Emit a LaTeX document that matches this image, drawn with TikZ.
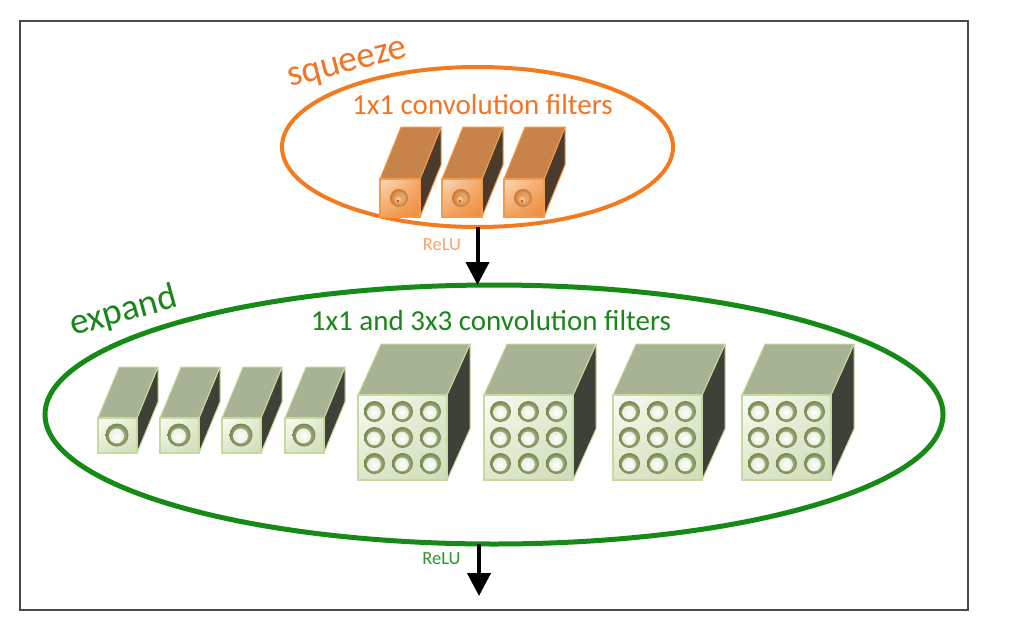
\documentclass[tikz,border=0pt]{standalone}
\usepackage{fontspec}
\setmainfont{Carlito}
\usetikzlibrary{arrows.meta,shapes.geometric,calc,shadings}
\definecolor{sqline}{HTML}{F47A20}
\definecolor{sqtext}{HTML}{F07527}
\definecolor{sqrelu}{HTML}{F5A46B}
\definecolor{grline}{HTML}{158A15}
\definecolor{grtext}{HTML}{1A861A}
\definecolor{grrelu}{HTML}{2A962A}
\definecolor{ortop}{HTML}{C7834A}
\definecolor{orside}{HTML}{4B3B2D}
\definecolor{orfa}{HTML}{FCD9B8}
\definecolor{orfb}{HTML}{EE8A38}
\definecolor{orborder}{HTML}{F39B4C}
\definecolor{orknob}{HTML}{E98A3A}
\definecolor{grtop}{HTML}{A8B396}
\definecolor{grside}{HTML}{3D4138}
\definecolor{grfa}{HTML}{FAFCF4}
\definecolor{grfb}{HTML}{D0DDB8}
\definecolor{grborder}{HTML}{C4DA9E}
\definecolor{grknob}{HTML}{8FAA5E}
\definecolor{framegray}{HTML}{4A4A4A}
% #1 x, #2 y (front top-left), #3 w, #4 h, #5 dx, #6 dy, #7 colour prefix
\newcommand\filtcube[7]{%
  \filldraw[fill=#7side, draw=#7border, line width=1pt, line join=round]
    (#1+#3,#2) -- (#1+#3+#5,#2-#6) -- (#1+#3+#5,#2+#4-#6) -- (#1+#3,#2+#4) -- cycle;
  \filldraw[fill=#7top, draw=#7border, line width=1pt, line join=round]
    (#1,#2) -- (#1+#5,#2-#6) -- (#1+#3+#5,#2-#6) -- (#1+#3,#2) -- cycle;
  \shade[upper left=#7fa, upper right=#7fb!60!#7fa, lower left=#7fb!70!#7fa, lower right=#7fb]
    (#1,#2) rectangle (#1+#3,#2+#4);
  \draw[#7border, line width=2pt] (#1,#2) rectangle (#1+#3,#2+#4);
}
\newcommand\orknob[2]{%
  \shade[inner color=orfa, outer color=orknob!85!black] (#1,#2) circle[radius=9pt];
  \shade[inner color=orfa, outer color=orknob] (#1-1,#2+1) circle[radius=5pt];
  \fill[orknob!70!black] (#1-1,#2+3) circle[radius=1.3pt];
}
\newcommand\grknob[3]{%
  \shade[inner color=grknob!35!white, outer color=grknob!80!black] (#1,#2) circle[radius=#3pt];
  \shade[inner color=white, outer color=white!80!grknob] (#1-0.5,#2+1) circle[radius=0.65*#3pt];
}
\begin{document}
\begin{tikzpicture}[x=1pt,y=-1pt,
  ellipsebox/.style={ellipse, inner sep=0pt, outer sep=0pt},
  arr/.style={line width=4pt, -{Triangle[width=23pt,length=23pt]}},
  bigtext/.style={font=\fontsize{37}{40}\selectfont},
  midtext/.style={font=\fontsize{29}{32}\selectfont},
  smalltext/.style={font=\fontsize{18.5}{20}\selectfont}]
\useasboundingbox (0,0) rectangle (1024,634);
\fill[white] (0,0) rectangle (1024,634);
\draw[framegray, line width=1.6pt] (20,21) rectangle (968,610);

% ellipses
\node[ellipsebox, draw=sqline, line width=4pt, minimum width=391pt, minimum height=160pt] (sq) at (477.5,147) {};
\node[ellipsebox, draw=grline, line width=5pt, minimum width=898pt, minimum height=259pt] (ex) at (494,414.5) {};

% labels
\node[bigtext, text=sqtext, rotate=14.3, anchor=base west, inner sep=0pt] (sqlabel) at (290,87) {squeeze};
\node[midtext, text=sqtext, anchor=base, inner sep=0pt] (sqsub) at (482.5,114) {1x1 convolution filters};
\node[bigtext, text=grtext, rotate=15.4, anchor=base west, inner sep=0pt] (exlabel) at (73,336) {expand};
\node[midtext, text=grtext, anchor=base, inner sep=0pt] (exsub) at (491,330) {1x1 and 3x3 convolution filters};

% squeeze filters
\foreach \x in {380,442,504} {
  \filtcube{\x}{179}{40}{38}{21}{52}{or}
  \orknob{\x+19}{198}
}
% expand 1x1 filters
\foreach \x in {98,160,222,285} {
  \filtcube{\x}{418}{39}{35}{21}{51}{gr}
  \grknob{\x+19}{435}{11.5}
}
% expand 3x3 filters
\foreach \x in {358,484,613,742} {
  \filtcube{\x}{395}{89}{85}{23}{51}{gr}
  \foreach \i in {-28,0,28} {
    \foreach \j in {-26,0,26} {
      \grknob{\x+44.5+\i}{437.5+\j}{10.5}
    }
  }
}

% arrows
\draw[arr] (sq.south) -- (sq.south |- ex.north);
\node[smalltext, text=sqrelu, anchor=base, inner sep=0pt] (relu1) at (442,250) {ReLU};
\coordinate (out) at (479,596);
\draw[arr] (out |- ex.south) -- (out);
\node[smalltext, text=grrelu, anchor=base, inner sep=0pt] (relu2) at (441.5,564) {ReLU};
\end{tikzpicture}
\end{document}
